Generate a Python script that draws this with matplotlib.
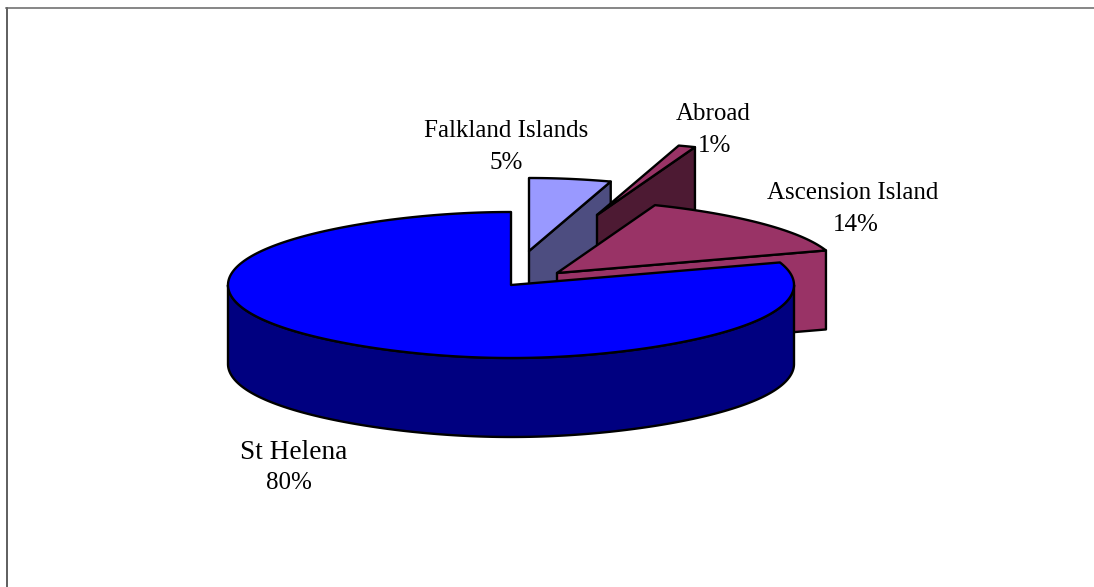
import numpy as np
import matplotlib
matplotlib.use("Agg")
import matplotlib.pyplot as plt
from matplotlib.patches import Polygon
from matplotlib.lines import Line2D

categories = ["Falkland Islands", "Abroad", "Ascension Island", "St Helena"]
shares = [5, 1, 14, 80]

top_colors = ["#9999FF", "#993366", "#993366", "#0000FF"]
side_colors = ["#4D4D80", "#4D1A33", "#993366", "#000080"]
apexes = [(529, 251), (597, 215), (557, 273), (511, 285)]
name_xy = [(506.5, 137), (713, 120), (853, 199), (293.5, 459)]
pct_xy = [(506, 169), (715, 152), (856, 231), (288.5, 489)]
name_sizes = [18, 18, 18, 19.6]

RX, RY, DEPTH = 283, 73, 79
LW = 1.7

plt.rcParams["font.family"] = ["Liberation Serif", "DejaVu Serif"]
fig = plt.figure(figsize=(10.94, 5.87), dpi=100)
ax = fig.add_axes([0, 0, 1, 1])
ax.set_xlim(0, 1094)
ax.set_ylim(587, 0)
ax.axis("off")


def rim(apex, t0, t1):
    t = np.radians(np.linspace(t0, t1, max(int(abs(t1 - t0)) * 2, 2)))
    k = 1 - 0.08 * np.cos(t) ** 4
    return np.column_stack((apex[0] + RX * k * np.sin(t), apex[1] - RY * np.cos(t)))


def patch(points, color, z):
    ax.add_patch(Polygon(points, closed=True, facecolor=color, edgecolor="black",
                         linewidth=LW, joinstyle="round", zorder=z))


edges = np.cumsum([0] + shares) * 3.6
down = np.array([0, DEPTH])

for i, name in enumerate(categories):
    apex = np.array(apexes[i], dtype=float)
    t0, t1 = edges[i], edges[i + 1]
    arc = rim(apex, t0, t1)
    z = i * 3 + 1
    if name == "St Helena":
        front = rim(apex, max(t0, 90), 270)
        patch(np.vstack((front, (front + down)[::-1])), side_colors[i], z)
    else:
        end = arc[-1]
        patch(np.vstack((apex, end, end + down, apex + down)), side_colors[i], z)
    patch(np.vstack((apex, arc)), top_colors[i], z + 1)
    ax.text(*name_xy[i], name, ha="center", va="baseline", fontsize=name_sizes[i],
            color="black", zorder=20)
    ax.text(*pct_xy[i], f"{shares[i]}%", ha="center", va="baseline", fontsize=18,
            color="black", zorder=20)

fig.add_artist(Line2D([6.5 / 1094, 6.5 / 1094], [0, 1 - 8 / 587], color="#333333", lw=1.1))
fig.add_artist(Line2D([6 / 1094, 1], [1 - 8 / 587, 1 - 8 / 587], color="#666666", lw=1.1))

fig.savefig("out.png", dpi=100)
